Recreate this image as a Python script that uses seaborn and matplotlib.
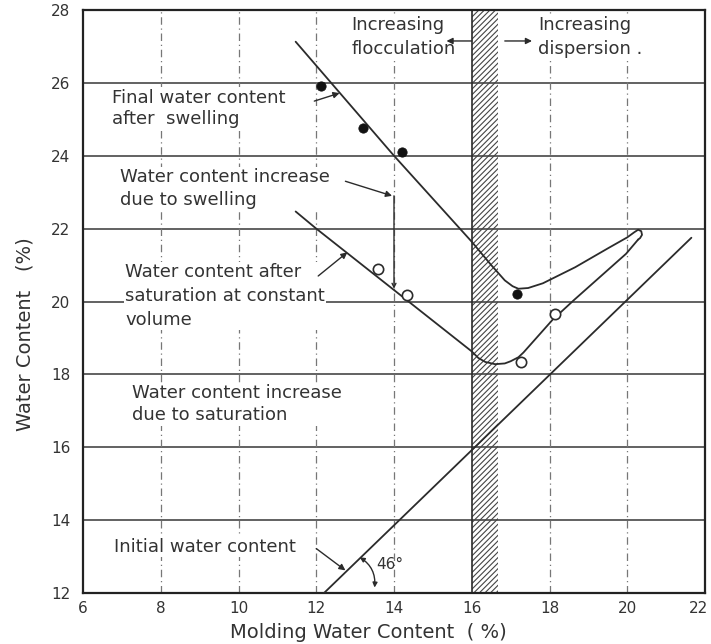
import matplotlib
matplotlib.use("Agg")
import matplotlib.pyplot as plt
import matplotlib.transforms as mtransforms
import seaborn as sns
import pandas as pd

# ---------------- data ----------------
final_x = [11.47, 14.0, 16.0, 16.5, 16.85, 17.05, 17.2, 17.45, 17.83, 18.66, 19.52, 20.0, 20.18, 20.28, 20.36, 20.38, 20.33, 20.28]
final_y = [27.13, 24.0, 21.64, 21.0, 20.58, 20.42, 20.35, 20.37, 20.5, 20.94, 21.47, 21.76, 21.9, 21.97, 21.93, 21.83, 21.74, 21.7]

sat_x = [11.47, 12.0, 16.0, 16.17, 16.35, 16.6, 16.85, 17.0, 17.2, 17.33, 18.08, 18.64, 19.97, 20.28]
sat_y = [22.47, 22.0, 18.63, 18.45, 18.34, 18.28, 18.3, 18.36, 18.47, 18.6, 19.5, 20.05, 21.31, 21.7]

init_x = [12.2, 21.65]
init_y = [12.0, 21.75]

filled_x = [12.12, 13.2, 14.2, 17.16]
filled_y = [25.92, 24.75, 24.1, 20.2]

open_x = [13.58, 14.34, 17.26, 18.15]
open_y = [20.9, 20.19, 18.35, 19.66]

x_ticks = [6, 8, 10, 12, 14, 16, 18, 20, 22]
y_ticks = [12, 14, 16, 18, 20, 22, 24, 26, 28]

hatch_zone = [16.0, 16.67]

# ---------------- style ----------------
sns.set_style("white")
plt.rcParams["font.family"] = ["DejaVu Sans"]
plt.rcParams["hatch.linewidth"] = 0.8
plt.rcParams["hatch.color"] = "#444444"

INK = "#2b2b2b"
TXT = "#333333"

fig = plt.figure(figsize=(7.11, 6.44), dpi=100)
ax = fig.add_axes([83 / 711, 1 - 593 / 644, (705 - 83) / 711, (593 - 10) / 644])

ax.set_xlim(6, 22)
ax.set_ylim(12, 28)
ax.set_xticks(x_ticks)
ax.set_yticks(y_ticks)
ax.set_axisbelow(True)

# grid
for y in y_ticks[1:-1]:
    ax.axhline(y, color="#555555", lw=1.3, zorder=0.5)
for x in x_ticks[1:-1]:
    if x == 16:
        continue
    ax.axvline(x, color="#777777", lw=0.9, ls=(0, (6, 3, 1, 3)), zorder=0.5)

# hatched transition zone
ax.axvspan(hatch_zone[0], hatch_zone[1], facecolor="none", edgecolor="#444444",
           hatch="//////", lw=0, zorder=1)
ax.axvline(hatch_zone[0], color=INK, lw=1.2, zorder=1.2)

# curves
df_final = pd.DataFrame({"x": final_x, "y": final_y})
df_sat = pd.DataFrame({"x": sat_x, "y": sat_y})
df_init = pd.DataFrame({"x": init_x, "y": init_y})
sns.lineplot(data=df_final, x="x", y="y", sort=False, estimator=None, color=INK, lw=1.3, ax=ax, zorder=4)
sns.lineplot(data=df_sat, x="x", y="y", sort=False, estimator=None, color=INK, lw=1.3, ax=ax, zorder=4)
sns.lineplot(data=df_init, x="x", y="y", sort=False, estimator=None, color=INK, lw=1.3, ax=ax, zorder=4)

sns.scatterplot(x=filled_x, y=filled_y, color="#111111", s=45, edgecolor="#111111", ax=ax, zorder=5)
sns.scatterplot(x=open_x, y=open_y, facecolor="white", edgecolor=INK, linewidth=1.2, s=55, ax=ax, zorder=5)

# texts
box = dict(facecolor="white", edgecolor="none", pad=1.0)
fs = 13
ax.text(12.9, 27.26, "Increasing\nflocculation", fontsize=fs, color=TXT, va="center", ha="left",
        linespacing=1.4, bbox=box, zorder=3)
ax.text(17.7, 27.26, "Increasing\ndispersion .", fontsize=fs, color=TXT, va="center", ha="left",
        linespacing=1.4, bbox=box, zorder=3)
ax.text(6.75, 25.3, "Final water content\nafter  swelling", fontsize=fs, color=TXT, va="center", ha="left",
        linespacing=1.25, bbox=box, zorder=3)
ax.text(6.94, 23.1, "Water content increase\ndue to swelling", fontsize=fs, color=TXT, va="center", ha="left",
        linespacing=1.3, bbox=box, zorder=3)
ax.text(7.08, 20.15, "Water content after\nsaturation at constant\nvolume", fontsize=fs, color=TXT,
        va="center", ha="left", linespacing=1.4, bbox=box, zorder=3)
ax.text(7.25, 17.18, "Water content increase\ndue to saturation", fontsize=fs, color=TXT, va="center", ha="left",
        linespacing=1.3, bbox=box, zorder=3)
ax.text(6.8, 13.27, "Initial water content", fontsize=fs, color=TXT, va="center", ha="left",
        bbox=box, zorder=3)
ax.text(13.55, 12.78, "46°", fontsize=11, color=TXT, va="center", ha="left", zorder=3)

# arrows
arr = dict(arrowstyle="-|>", color=INK, lw=1.0, mutation_scale=9, shrinkA=0, shrinkB=0)
ax.annotate("", xy=(15.35, 27.15), xytext=(16.0, 27.15), arrowprops=arr, zorder=6)
ax.annotate("", xy=(17.55, 27.15), xytext=(16.85, 27.15), arrowprops=arr, zorder=6)
ax.annotate("", xy=(12.6, 25.72), xytext=(11.95, 25.5), arrowprops=arr, zorder=6)
ax.annotate("", xy=(13.95, 22.9), xytext=(12.75, 23.3), arrowprops=arr, zorder=6)
ax.annotate("", xy=(12.8, 21.35), xytext=(12.05, 20.7), arrowprops=arr, zorder=6)
ax.annotate("", xy=(12.75, 12.62), xytext=(12.0, 13.22), arrowprops=arr, zorder=6)
ax.annotate("", xy=(14.0, 20.35), xytext=(14.0, 22.9),
            arrowprops=dict(arrowstyle="->", color=INK, lw=1.0, mutation_scale=7, shrinkA=0, shrinkB=0), zorder=6)
ax.annotate("", xy=(13.5, 12.15), xytext=(13.12, 12.98),
            arrowprops=dict(arrowstyle="<|-|>", color=INK, lw=1.0, mutation_scale=7,
                            connectionstyle="arc3,rad=-0.3", shrinkA=0, shrinkB=0), zorder=6)

# axes cosmetics
for sp in ax.spines.values():
    sp.set_visible(True)
    sp.set_color("#222222")
    sp.set_linewidth(1.6)
ax.tick_params(axis="both", length=0, labelsize=11, labelcolor=TXT)
ax.tick_params(axis="y", pad=9)
ax.tick_params(axis="x", pad=6)
ax.set_xlabel("")
ax.set_ylabel("")
# keep the last x tick label inside the canvas
last = ax.get_xticklabels()[-1]
last.set_transform(last.get_transform() + mtransforms.ScaledTranslation(-6 / 100, 0, fig.dpi_scale_trans))

fig.text(368 / 711, 1 - 633 / 644, "Molding Water Content  ( %)", fontsize=14, color=TXT, ha="center", va="center")
fig.text(25 / 711, 1 - 334 / 644, "Water Content   (%)", fontsize=14, color=TXT, ha="center", va="center",
         rotation=90)

fig.savefig("out.png", dpi=100)
